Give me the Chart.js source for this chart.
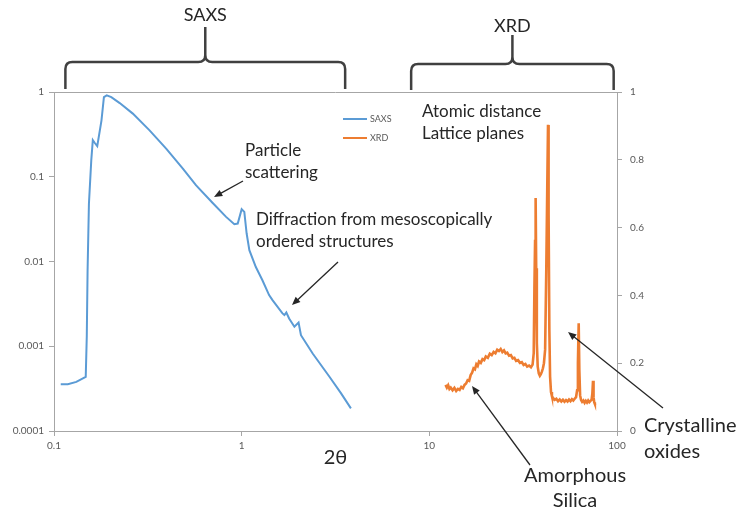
<!DOCTYPE html>
<html>
<head>
<meta charset="utf-8">
<script src="https://cdn.jsdelivr.net/npm/chart.js@4"></script>
<style>
    html, body { margin: 0; padding: 0; background: #fff; }
    #wrap { width: 743px; height: 511px; }
</style>
</head>
<body>
<div id="wrap"><canvas id="chart" width="743" height="511"></canvas></div>
<script>
// SAXS curve (left log axis)
const saxsX = [0.1086, 0.1185, 0.1315, 0.1476, 0.1495, 0.151, 0.1535, 0.158, 0.161, 0.165, 0.170, 0.179, 0.1845, 0.191, 0.202, 0.224, 0.263, 0.323, 0.396, 0.486, 0.572, 0.701, 0.826, 0.914, 0.953, 1.0, 1.033, 1.063, 1.099, 1.19, 1.29, 1.40, 1.46, 1.65, 1.69, 1.73, 1.79, 1.91, 2.01, 2.07, 2.39, 2.93, 3.38, 3.82]
const saxsY = [0.000356, 0.000356, 0.00038, 0.000436, 0.0013, 0.0079, 0.048, 0.157, 0.27, 0.25, 0.23, 0.46, 0.87, 0.914, 0.87, 0.74, 0.556, 0.353, 0.215, 0.125, 0.079, 0.049, 0.0336, 0.0275, 0.028, 0.0414, 0.0385, 0.0214, 0.0136, 0.0086, 0.006, 0.00402, 0.0035, 0.00244, 0.00233, 0.0025, 0.00213, 0.0017, 0.0019, 0.00135, 0.00082, 0.00044, 0.00028, 0.000185]

// XRD pattern (right linear axis)
const xrdX = [12.2, 12.4, 12.6, 12.8, 13.0, 13.3, 13.6, 13.9, 14.2, 14.5, 14.8, 15.1, 15.4, 15.7, 16.0, 16.3, 16.6, 16.9, 17.2, 17.5, 17.8, 18.1, 18.4, 18.8, 19.2, 19.6, 20.0, 20.5, 21.0, 21.5, 22.0, 22.5, 23.0, 23.5, 24.0, 24.5, 25.0, 25.5, 26.0, 26.6, 27.2, 27.8, 28.4, 29.0, 29.7, 30.4, 31.1, 31.8, 32.5, 33.2, 34.0, 34.8, 35.5, 36.0, 36.3, 36.6, 36.85, 37.1, 37.4, 37.8, 38.3, 38.8, 39.3, 39.8, 40.3, 40.8, 41.4, 42.0, 42.5, 42.9, 43.2, 43.6, 44.0, 44.5, 45.0, 45.7, 46.5, 47.5, 48.5, 49.5, 50.5, 51.5, 52.5, 53.5, 54.5, 55.5, 56.5, 57.5, 58.5, 59.5, 60.5, 61.3, 61.9, 62.5, 63.0, 63.6, 64.3, 65.2, 66.2, 67.2, 68.2, 69.2, 70.2, 71.2, 72.2, 73.2, 73.9, 74.5, 75.0, 75.6, 76.2, 76.7]
const xrdY = [0.136, 0.128, 0.135, 0.124, 0.128, 0.120, 0.127, 0.118, 0.124, 0.121, 0.130, 0.126, 0.136, 0.140, 0.150, 0.148, 0.165, 0.172, 0.185, 0.182, 0.197, 0.192, 0.205, 0.201, 0.212, 0.209, 0.220, 0.216, 0.228, 0.224, 0.233, 0.229, 0.240, 0.236, 0.242, 0.233, 0.238, 0.229, 0.231, 0.222, 0.224, 0.214, 0.216, 0.207, 0.209, 0.201, 0.203, 0.195, 0.198, 0.190, 0.193, 0.188, 0.196, 0.230, 0.420, 0.560, 0.687, 0.480, 0.260, 0.190, 0.170, 0.163, 0.168, 0.175, 0.185, 0.200, 0.240, 0.480, 0.720, 0.903, 0.640, 0.300, 0.160, 0.115, 0.103, 0.097, 0.092, 0.095, 0.088, 0.093, 0.087, 0.092, 0.086, 0.091, 0.087, 0.093, 0.088, 0.094, 0.090, 0.095, 0.100, 0.120, 0.200, 0.318, 0.180, 0.105, 0.092, 0.086, 0.090, 0.083, 0.089, 0.084, 0.090, 0.085, 0.089, 0.092, 0.110, 0.148, 0.100, 0.085, 0.080, 0.077]

const xTicks = [0.1, 1, 10, 100]
const leftTicks = [0.0001, 0.001, 0.01, 0.1, 1]
const rightTicks = [0, 0.2, 0.4, 0.6, 0.8, 1]

// ranges covered by the braces above the plot, in 2θ units
const braceLabels = ['SAXS', 'XRD']
const braceFrom = [0.115, 8]
const braceTo = [3.56, 96]

const axisGrey = '#A6A6A6'
const tickGrey = '#595959'
const inkColor = '#262626'
const font = 'Lato, "Open Sans", sans-serif'

function toPoints(xs, ys) {
    return xs.map((x, i) => ({ x: x, y: ys[i] }))
}

// braces, legend, annotations and arrows
const braceStyle = [
    { y: 62, top: 27, end: 89, labelY: 15 },
    { y: 64, top: 35, end: 90, labelY: 26 }
]

const notes = [
    { lines: ['Particle', 'scattering'], x: 245, y: 151, gap: 22, size: 17, align: 'left' },
    { lines: ['Diffraction from mesoscopically', 'ordered structures'], x: 256, y: 220, gap: 22, size: 17, align: 'left' },
    { lines: ['Atomic distance', 'Lattice planes'], x: 422, y: 112, gap: 22, size: 17, align: 'left' },
    { lines: ['Crystalline', 'oxides'], x: 644, y: 426, gap: 26, size: 20, align: 'left' },
    { lines: ['Amorphous', 'Silica'], x: 575, y: 476, gap: 25, size: 20, align: 'center' }
]

const arrows = [
    { from: [243, 181], to: [214, 197] },
    { from: [338, 262], to: [292, 305] },
    { from: [663, 408], to: [568, 332] },
    { from: [530, 465], to: [472, 386] }
]

function drawArrow(ctx, a) {
    const [x1, y1] = a.from
    const [x2, y2] = a.to
    const ang = Math.atan2(y2 - y1, x2 - x1)
    ctx.strokeStyle = inkColor
    ctx.fillStyle = inkColor
    ctx.lineWidth = 1.3
    ctx.beginPath()
    ctx.moveTo(x1, y1)
    ctx.lineTo(x2 - 6 * Math.cos(ang), y2 - 6 * Math.sin(ang))
    ctx.stroke()
    ctx.beginPath()
    ctx.moveTo(x2, y2)
    ctx.lineTo(x2 - 9 * Math.cos(ang - 0.4), y2 - 9 * Math.sin(ang - 0.4))
    ctx.lineTo(x2 - 9 * Math.cos(ang + 0.4), y2 - 9 * Math.sin(ang + 0.4))
    ctx.closePath()
    ctx.fill()
}

function drawBrace(ctx, x1, x2, s) {
    const xm = (x1 + x2) / 2
    const r = 7
    ctx.strokeStyle = '#404040'
    ctx.lineWidth = 2.5
    ctx.beginPath()
    ctx.moveTo(x1, s.end)
    ctx.lineTo(x1, s.y + r)
    ctx.quadraticCurveTo(x1, s.y, x1 + r, s.y)
    ctx.lineTo(xm - r, s.y)
    ctx.quadraticCurveTo(xm, s.y, xm, s.y - r)
    ctx.lineTo(xm, s.top)
    ctx.moveTo(xm, s.y - r)
    ctx.quadraticCurveTo(xm, s.y, xm + r, s.y)
    ctx.lineTo(x2 - r, s.y)
    ctx.quadraticCurveTo(x2, s.y, x2, s.y + r)
    ctx.lineTo(x2, s.end)
    ctx.stroke()
}

const extras = {
    id: 'extras',
    afterDraw(chart) {
        const ctx = chart.ctx
        const area = chart.chartArea
        const xs = chart.scales.x
        ctx.save()

        // top frame line
        ctx.strokeStyle = axisGrey
        ctx.lineWidth = 1
        ctx.beginPath()
        ctx.moveTo(area.left, area.top + 0.5)
        ctx.lineTo(area.right, area.top + 0.5)
        ctx.stroke()

        // braces
        braceLabels.forEach((label, i) => {
            const s = braceStyle[i]
            const x1 = xs.getPixelForValue(braceFrom[i])
            const x2 = xs.getPixelForValue(braceTo[i])
            drawBrace(ctx, x1, x2, s)
            ctx.fillStyle = inkColor
            ctx.font = '18px ' + font
            ctx.textAlign = 'center'
            ctx.textBaseline = 'middle'
            ctx.fillText(label, (x1 + x2) / 2, s.labelY)
        })

        // legend
        chart.data.datasets.forEach((ds, i) => {
            const y = 119 + i * 19
            ctx.strokeStyle = ds.borderColor
            ctx.lineWidth = 2
            ctx.beginPath()
            ctx.moveTo(343, y)
            ctx.lineTo(367, y)
            ctx.stroke()
            ctx.fillStyle = tickGrey
            ctx.font = '9px ' + font
            ctx.textAlign = 'left'
            ctx.textBaseline = 'middle'
            ctx.fillText(ds.label, 370, y + 0.5)
        })

        // axis title
        ctx.fillStyle = inkColor
        ctx.font = '20px ' + font
        ctx.textAlign = 'center'
        ctx.textBaseline = 'middle'
        ctx.fillText('2θ', (area.left + area.right) / 2, 458)

        // annotations
        notes.forEach(n => {
            ctx.fillStyle = inkColor
            ctx.font = n.size + 'px ' + font
            ctx.textAlign = n.align
            ctx.textBaseline = 'middle'
            n.lines.forEach((t, i) => ctx.fillText(t, n.x, n.y + i * n.gap))
        })
        arrows.forEach(a => drawArrow(ctx, a))

        ctx.restore()
    }
}

const tickFont = { family: font, size: 10 }

new Chart(document.getElementById('chart'), {
    type: 'line',
    data: {
        datasets: [
            {
                label: 'SAXS',
                data: toPoints(saxsX, saxsY),
                borderColor: '#5B9BD5',
                borderWidth: 2,
                pointRadius: 0,
                tension: 0,
                yAxisID: 'yL'
            },
            {
                label: 'XRD',
                data: toPoints(xrdX, xrdY),
                borderColor: '#ED7D31',
                borderWidth: 2.6,
                pointRadius: 0,
                tension: 0,
                yAxisID: 'yR'
            }
        ]
    },
    options: {
        responsive: false,
        animation: false,
        layout: { padding: { top: 92, left: 0, right: 0, bottom: 0 } },
        plugins: { legend: { display: false }, tooltip: { enabled: false } },
        scales: {
            x: {
                type: 'logarithmic',
                position: 'bottom',
                min: 0.1,
                max: 100,
                afterBuildTicks: s => { s.ticks = xTicks.map(v => ({ value: v })) },
                afterFit: s => { s.height = 80 },
                ticks: { callback: v => String(v), font: tickFont, color: tickGrey, padding: 4, autoSkip: false, maxRotation: 0 },
                grid: { drawOnChartArea: false, tickLength: 5, color: axisGrey },
                border: { color: axisGrey }
            },
            yL: {
                type: 'logarithmic',
                position: 'left',
                min: 0.0001,
                max: 1,
                afterBuildTicks: s => { s.ticks = leftTicks.map(v => ({ value: v })) },
                afterFit: s => { s.width = 54 },
                ticks: { callback: v => String(v), font: tickFont, color: tickGrey, padding: 5, autoSkip: false },
                grid: { drawOnChartArea: false, tickLength: 5, color: axisGrey },
                border: { color: axisGrey }
            },
            yR: {
                type: 'linear',
                position: 'right',
                min: 0,
                max: 1,
                afterBuildTicks: s => { s.ticks = rightTicks.map(v => ({ value: v })) },
                afterFit: s => { s.width = 126 },
                ticks: { callback: v => String(Math.round(v * 10) / 10), font: tickFont, color: tickGrey, padding: 8, autoSkip: false },
                grid: { drawOnChartArea: false, tickLength: 5, color: axisGrey },
                border: { color: axisGrey }
            }
        }
    },
    plugins: [extras]
})
</script>
</body>
</html>
